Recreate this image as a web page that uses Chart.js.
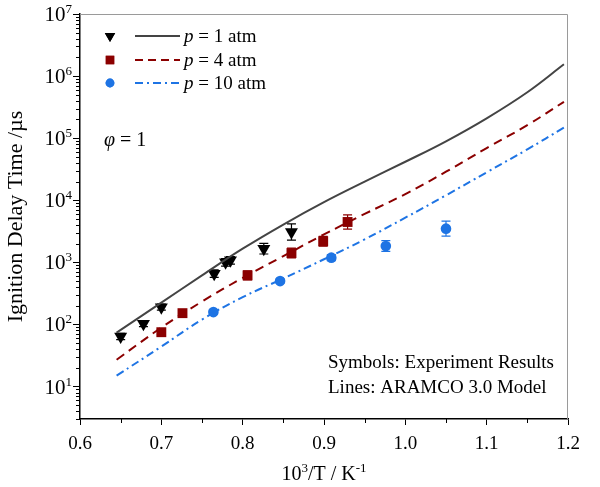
<!DOCTYPE html>
<html><head><meta charset="utf-8">
<script src="https://cdn.jsdelivr.net/npm/chart.js@4.4.1/dist/chart.umd.min.js"></script>
<style>html,body{margin:0;padding:0;background:#fff}</style>
</head><body>
<canvas id="c" width="600" height="487"></canvas>
<script>
// ---- data ----
const seriesLabels = ['1 atm', '4 atm', '10 atm'];
const exp1X = [0.650, 0.678, 0.700, 0.765, 0.779, 0.785, 0.826, 0.860];
const exp1Y = [64, 103, 190, 657, 1000, 1080, 1663, 3080];
const exp1Err = [1.12, 1.12, 1.12, 1.15, 1.15, 1.15, 1.22, 1.35];
const exp4X = [0.700, 0.726, 0.806, 0.860, 0.899, 0.929];
const exp4Y = [75, 152, 617, 1413, 2183, 4470];
const exp4Err = [1.1, 1.1, 1.18, 1.2, 1.2, 1.3];
const exp10X = [0.764, 0.846, 0.909, 0.976, 1.050];
const exp10Y = [158, 499, 1191, 1833, 3490];
const exp10Err = [1.08, 1.08, 1.12, 1.22, 1.32];
const modelX = [0.645, 0.70, 0.75, 0.80, 0.85, 0.90, 0.95, 1.00, 1.05, 1.10, 1.15, 1.195];
const model1 = [74, 224, 617, 1660, 4070, 9330, 19950, 41690, 89100, 208900, 549500, 1549000];
const model4 = [27, 89, 234, 562, 1259, 2818, 6026, 12590, 28840, 69180, 162200, 385500];
const model10 = [15, 44, 120, 275, 550, 1122, 2344, 5248, 12020, 28180, 66070, 147900];
const xTicks = [0.6, 0.7, 0.8, 0.9, 1.0, 1.1, 1.2];
const xMinorTicks = [0.65, 0.75, 0.85, 0.95, 1.05, 1.15];
const yTicks = [10, 100, 1000, 10000, 100000, 1000000, 10000000];
const annotations = ['Symbols: Experiment Results', 'Lines: ARAMCO 3.0 Model'];

// ---- styles ----
const C1 = '#000000', C1L = '#444444', C4 = '#8B0000', C10 = '#1E74E4';
const SERIF = '"Liberation Serif", "Times New Roman", serif';
const zip = (xs, ys) => xs.map((x, i) => ({x: x, y: ys[i]}));

const extras = {
  id: 'extras',
  beforeDatasetsDraw(chart) {
    const ctx = chart.ctx, xs = chart.scales.x, ys = chart.scales.y;
    const sets = [[exp1X, exp1Y, exp1Err, C1], [exp4X, exp4Y, exp4Err, C4], [exp10X, exp10Y, exp10Err, C10]];
    ctx.save();
    ctx.lineWidth = 1.2;
    sets.forEach(([X, Y, E, col]) => {
      ctx.strokeStyle = col;
      X.forEach((xv, i) => {
        const px = xs.getPixelForValue(xv);
        const y1 = ys.getPixelForValue(Y[i] / E[i]);
        const y2 = ys.getPixelForValue(Y[i] * E[i]);
        ctx.beginPath();
        ctx.moveTo(px, y1); ctx.lineTo(px, y2);
        ctx.moveTo(px - 4.5, y1); ctx.lineTo(px + 4.5, y1);
        ctx.moveTo(px - 4.5, y2); ctx.lineTo(px + 4.5, y2);
        ctx.stroke();
      });
    });
    ctx.restore();
  },
  afterDraw(chart) {
    const ctx = chart.ctx, xs = chart.scales.x, ys = chart.scales.y, a = chart.chartArea;
    ctx.save();
    // frame top/right
    ctx.strokeStyle = '#9a9a9a'; ctx.lineWidth = 1;
    ctx.beginPath();
    ctx.moveTo(a.left, a.top + 0.5); ctx.lineTo(a.right - 0.5, a.top + 0.5); ctx.lineTo(a.right - 0.5, a.bottom);
    ctx.stroke();
    // minor ticks
    ctx.strokeStyle = '#000'; ctx.lineWidth = 1;
    ctx.beginPath();
    xMinorTicks.forEach(v => { const px = Math.round(xs.getPixelForValue(v)) + 0.5; ctx.moveTo(px, a.bottom); ctx.lineTo(px, a.bottom + 4); });
    for (let e = 0; e <= 6; e++) {
      for (let m = 2; m <= 9; m++) {
        const v = m * Math.pow(10, e);
        if (v < ys.min || v > ys.max) continue;
        const py = Math.round(ys.getPixelForValue(v)) + 0.5;
        ctx.moveTo(a.left - 4, py); ctx.lineTo(a.left, py);
      }
    }
    ctx.stroke();
    // y tick labels 10^n
    ctx.fillStyle = '#000'; ctx.textBaseline = 'alphabetic';
    yTicks.forEach(v => {
      const py = ys.getPixelForValue(v);
      const ex = String(Math.round(Math.log10(v)));
      ctx.font = '13px ' + SERIF;
      const we = ctx.measureText(ex).width;
      const right = a.left - 8;
      ctx.textAlign = 'left';
      ctx.fillText(ex, right - we, py - 1);
      ctx.textAlign = 'right';
      ctx.font = '21px ' + SERIF;
      ctx.fillText('10', right - we, py + 7);
    });
    // x title
    const parts = [['10', 20, 0], ['3', 13, -8], ['/T / K', 20, 0], ['-1', 13, -8]];
    let total = 0;
    parts.forEach(p => { ctx.font = p[1] + 'px ' + SERIF; total += ctx.measureText(p[0]).width; });
    let tx = (a.left + a.right) / 2 - total / 2;
    ctx.textAlign = 'left';
    parts.forEach(p => { ctx.font = p[1] + 'px ' + SERIF; ctx.fillText(p[0], tx, 480 + p[2]); tx += ctx.measureText(p[0]).width; });
    // legend
    const rows = [
      {y: 36, col: C1, lcol: C1L, dash: [], style: 'tri', label: seriesLabels[0]},
      {y: 60, col: C4, lcol: C4, dash: [8, 5], style: 'rect', label: seriesLabels[1]},
      {y: 83, col: C10, lcol: C10, dash: [8, 4, 2, 4], style: 'circle', label: seriesLabels[2]}
    ];
    rows.forEach(r => {
      ctx.fillStyle = r.col;
      if (r.style === 'tri') Chart.helpers.drawPoint(ctx, {pointStyle: 'triangle', radius: 6, rotation: 180}, 110, r.y);
      else if (r.style === 'rect') Chart.helpers.drawPoint(ctx, {pointStyle: 'rect', radius: 6, rotation: 0}, 110, r.y);
      else Chart.helpers.drawPoint(ctx, {pointStyle: 'circle', radius: 4.4, rotation: 0}, 110, r.y);
      ctx.fill();
      ctx.strokeStyle = r.lcol; ctx.lineWidth = 2; ctx.setLineDash(r.dash);
      ctx.beginPath(); ctx.moveTo(135, r.y); ctx.lineTo(180, r.y); ctx.stroke();
      ctx.setLineDash([]);
      ctx.fillStyle = '#000'; ctx.textAlign = 'left';
      ctx.font = 'italic 19px ' + SERIF;
      ctx.fillText('p', 184, r.y + 6);
      const wp = ctx.measureText('p').width;
      ctx.font = '19px ' + SERIF;
      ctx.fillText(' = ' + r.label, 184 + wp, r.y + 6);
    });
    // phi
    ctx.font = 'italic 20px ' + SERIF;
    ctx.fillText('\u03C6', 104, 146);
    const wphi = ctx.measureText('\u03C6').width;
    ctx.font = '20px ' + SERIF;
    ctx.fillText(' = 1', 104 + wphi, 146);
    // annotations
    ctx.font = '19px ' + SERIF;
    ctx.fillText(annotations[0], 328, 368);
    ctx.fillText(annotations[1], 328, 393);
    ctx.restore();
  }
};

const pointBase = {showLine: false, pointBorderWidth: 0};
new Chart(document.getElementById('c'), {
  type: 'scatter',
  data: {
    datasets: [
      {label: 'model ' + seriesLabels[0], data: zip(modelX, model1), showLine: true, borderColor: C1L, borderWidth: 2, pointRadius: 0, tension: 0.4, fill: false},
      {label: 'model ' + seriesLabels[1], data: zip(modelX, model4), showLine: true, borderColor: C4, borderWidth: 2, borderDash: [9, 6], pointRadius: 0, tension: 0.4, fill: false},
      {label: 'model ' + seriesLabels[2], data: zip(modelX, model10), showLine: true, borderColor: C10, borderWidth: 2, borderDash: [8, 4, 2, 4], pointRadius: 0, tension: 0.4, fill: false},
      Object.assign({label: 'exp ' + seriesLabels[0], data: zip(exp1X, exp1Y), pointStyle: 'triangle', rotation: 180, pointRadius: 7.5, backgroundColor: C1, borderColor: C1}, pointBase),
      Object.assign({label: 'exp ' + seriesLabels[1], data: zip(exp4X, exp4Y), pointStyle: 'rect', pointRadius: 7, backgroundColor: C4, borderColor: C4}, pointBase),
      Object.assign({label: 'exp ' + seriesLabels[2], data: zip(exp10X, exp10Y), pointStyle: 'circle', pointRadius: 5.3, backgroundColor: C10, borderColor: C10}, pointBase)
    ]
  },
  options: {
    responsive: false, animation: false, devicePixelRatio: 1,
    layout: {padding: {top: 14, right: 32, left: 0, bottom: 0}},
    plugins: {legend: {display: false}, tooltip: {enabled: false}},
    scales: {
      x: {
        type: 'linear', min: 0.6, max: 1.2,
        afterBuildTicks: s => { s.ticks = xTicks.map(v => ({value: v})); },
        afterFit: s => { s.height = 68; },
        grid: {drawOnChartArea: false, drawTicks: true, tickLength: 6, color: '#000', lineWidth: 1},
        border: {color: '#000', width: 1.5},
        ticks: {color: '#000', font: {family: SERIF, size: 19}, padding: 8, autoSkip: false, maxRotation: 0, callback: v => Number(v).toFixed(1)}
      },
      y: {
        type: 'logarithmic', min: 3, max: 1e7,
        afterBuildTicks: s => { s.ticks = yTicks.map(v => ({value: v})); },
        afterFit: s => { s.width = 80; },
        grid: {drawOnChartArea: false, drawTicks: true, tickLength: 7, color: '#000', lineWidth: 1},
        border: {color: '#000', width: 1.5},
        ticks: {display: true, color: 'rgba(0,0,0,0)', font: {family: SERIF, size: 1}, callback: () => ''},
        title: {display: true, text: 'Ignition Delay Time /\u00B5s', color: '#000', font: {family: SERIF, size: 22}, padding: {top: 3, bottom: 0}}
      }
    }
  },
  plugins: [extras]
});
</script>
</body></html>
